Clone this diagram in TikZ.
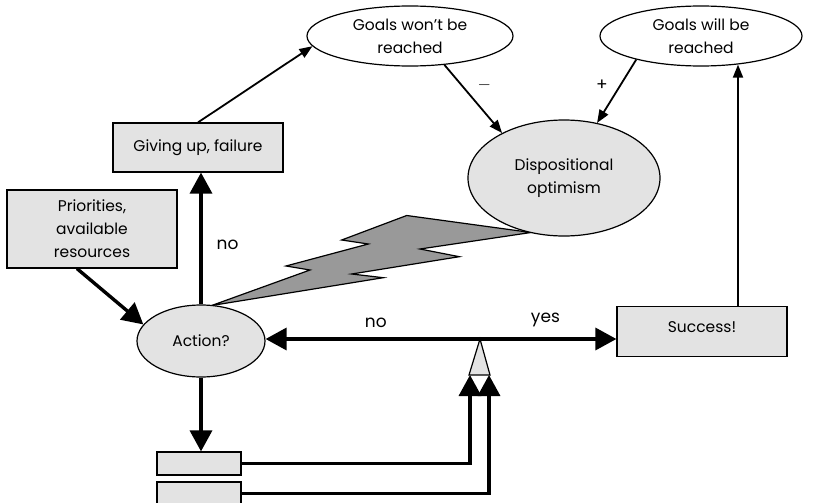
\documentclass[tikz,border=0pt]{standalone}
\usepackage{fontspec}
\setmainfont{Poppins}
\usetikzlibrary{arrows.meta,calc,shapes.geometric}
\definecolor{boxgray}{HTML}{E3E3E3}
\definecolor{boltgray}{HTML}{999999}
\begin{document}
\begin{tikzpicture}[x=1pt,y=-1pt,
  every node/.style={font=\fontsize{15.5}{23}\selectfont, align=center, inner sep=0pt},
  gbox/.style={draw, fill=boxgray, line width=1.2pt, rectangle},
  gell/.style={draw, fill=boxgray, line width=1.2pt, ellipse},
  well/.style={draw, fill=white, line width=1.2pt, ellipse},
  thin/.style={line width=1.8pt, -{Triangle[length=13pt,width=10pt]}},
  thick/.style={line width=3.4pt, -{Triangle[length=21pt,width=22pt]}},
  lbl/.style={font=\fontsize{17}{19}\selectfont}]
\useasboundingbox (0,0) rectangle (817,503);
% nodes
\node[well, minimum width=206pt, minimum height=60pt] (gw) at (410,36) {Goals won't be\\reached};
\node[well, minimum width=202pt, minimum height=60pt] (gwill) at (701,36) {Goals will be\\reached};
\node[gbox, minimum width=170pt, minimum height=49pt] (give) at (198,147.5) {Giving up, failure};
\node[gbox, minimum width=170pt, minimum height=78pt] (prio) at (92,229) {Priorities,\\available\\resources};
\node[gbox, minimum width=170pt, minimum height=50pt, anchor=north] (succ) at (702,306) {\raisebox{10pt}{Success!}};
\node[gell, minimum width=128pt, minimum height=72pt] (act) at (201,341) {Action?};
\node[gbox, minimum width=84pt, minimum height=23pt] (b1) at (199,463.5) {};
\node[gbox, minimum width=84pt, minimum height=23pt] (b2) at (199,493.5) {};
% bolt
\draw[fill=boltgray, line width=1.2pt, line join=miter]
  (211.7,305.5) -- (310,270) -- (286,266) -- (368.3,244) -- (341.7,240)
  -- (406.7,215.5) -- (531,232.5) -- (420,249) -- (459.3,256.7) -- (351.7,274)
  -- (383.3,277.7) -- cycle;
\node[gell, minimum width=192pt, minimum height=116pt] (disp) at (564,178) {Dispositional\\optimism};
% junction triangle
\coordinate (junc) at (480,339);
\coordinate (tl) at (470,375);
\coordinate (tr) at (489,375);
\draw[fill=boxgray, line width=1.2pt] (junc) -- ($(tl)+(-1,0)$) -- ($(tr)+(1,0)$) -- cycle;
% connectors
\draw[thin] (give.north) -- (gw.186);
\draw[thin] (gw.320) -- (disp.144) node[pos=0.3, right=15pt, lbl] {$-$};
\draw[thin] (gwill.200) -- (disp.59) node[pos=0.4, left=12pt, lbl] {+};
\coordinate (s1) at ($(succ.north)+(36,0)$);
\draw[thin] (s1) -- ($(s1 |- gwill.south)+(0,-2)$);
\draw[thick] (act.north) -- (act.north |- give.south) node[pos=0.45, right=14pt, lbl] {no};
\draw[thick] ($(prio.south)+(-15,0)$) -- (act.164);
\draw[thick] (act.south) -- (act.south |- b1.north);
\draw[thick] (junc) -- (junc -| act.east) node[pos=0.486, above=10pt, lbl] {no};
\draw[thick] (junc) -- (junc -| succ.west) node[pos=0.48, above=10pt, lbl] {yes};
\draw[thick] (b1.east) -| (tl);
\draw[thick] (b2.east) -| (tr);
\end{tikzpicture}
\end{document}
